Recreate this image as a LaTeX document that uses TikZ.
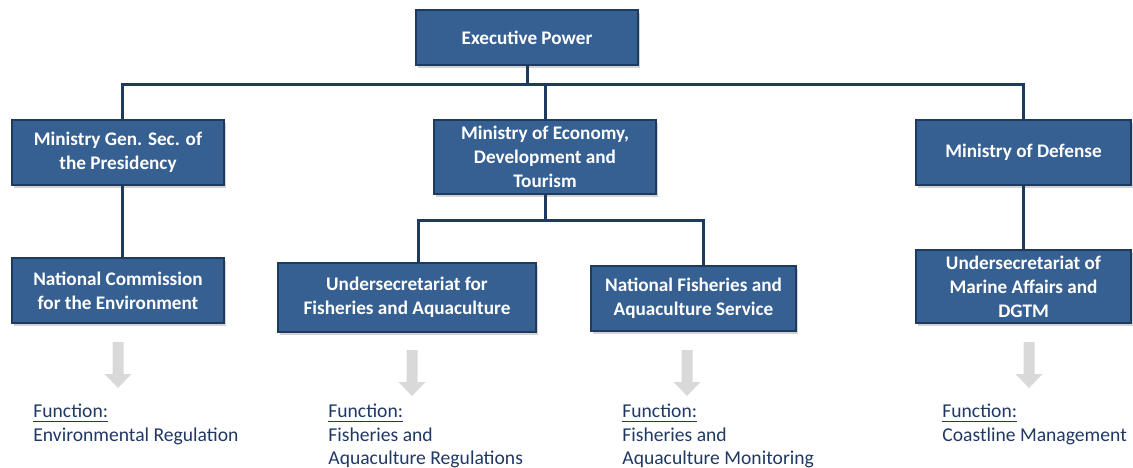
\documentclass[tikz,border=0pt]{standalone}
\usepackage{fontspec}
\setmainfont{Carlito}
\usetikzlibrary{shadows}
\definecolor{boxfill}{HTML}{376092}
\definecolor{boxline}{HTML}{1F3A5F}
\definecolor{fntext}{HTML}{1F3864}
\definecolor{arrowgray}{HTML}{D9D9D9}
\tikzset{
  orgbox/.style={draw=boxline,line width=1.4pt,fill=boxfill,text=white,
    font=\bfseries\fontsize{9.6}{12}\selectfont,align=center,inner sep=2pt,
    drop shadow={shadow xshift=1.2pt,shadow yshift=-1.4pt,opacity=0.35}},
  link/.style={draw=boxline,line width=1.5pt},
  fnlabel/.style={anchor=north west,align=left,text=fntext,inner sep=0pt,
    font=\fontsize{9.8}{11.75}\selectfont},
}
% grey block arrow pointing down, centred on a coordinate
\newcommand{\fnarrow}[1]{\fill[arrowgray] (#1) +(-5.5,-23) -- +(5.5,-23) -- +(5.5,9)
  -- +(13.5,9) -- +(0,23) -- +(-13.5,9) -- +(-5.5,9) -- cycle;}
\begin{document}
\begin{tikzpicture}[x=0.5pt,y=-0.5pt]
\useasboundingbox (0,0) rectangle (1133,467);
%%
\node (exec) at (527,37.5) [orgbox,minimum width=111pt,minimum height=27.5pt] {Executive Power};
\node (min_gensec) at (118,152.5) [orgbox,minimum width=106pt,minimum height=32.5pt] {Ministry Gen. Sec. of\\the Presidency};
\node (min_econ) at (545,157) [orgbox,minimum width=111pt,minimum height=37pt] {Ministry of Economy,\\Development and\\Tourism};
\node (min_def) at (1023.5,152.5) [orgbox,minimum width=107.5pt,minimum height=32.5pt] {Ministry of Defense};
\node (com_env) at (118,290.5) [orgbox,minimum width=106pt,minimum height=32.5pt] {National Commission\\for the Environment};
\node (sub_fish) at (407,297.5) [orgbox,minimum width=129pt,minimum height=34.5pt] {Undersecretariat for\\Fisheries and Aquaculture};
\node (serv_fish) at (693.5,298.5) [orgbox,minimum width=102.5pt,minimum height=32.5pt] {National Fisheries and\\Aquaculture Service};
\node (sub_mar) at (1023.5,286.5) [orgbox,minimum width=107.5pt,minimum height=36.5pt] {Undersecretariat of\\Marine Affairs and\\DGTM};
%
\coordinate (bus) at (527,84);
\coordinate (bus_econ) at (545,220);
\draw [link] (exec) -- (bus);
\draw [link] ([xshift=2pt]min_gensec.north) |- (bus) -| (min_def.north);
\draw [link] (min_econ.north) -- (min_econ.north |- bus);
\draw [link] ([xshift=2pt]min_gensec.south) -- ([xshift=2pt]com_env.north);
\draw [link] (min_def) -- (sub_mar);
\draw [link] (min_econ) -- (bus_econ);
\draw [link] ([xshift=5.5pt]sub_fish.north) |- (bus_econ) -| ([xshift=5pt]serv_fish.north);
%
\coordinate (arr_env) at (118,365);
\coordinate (arr_reg) at (412,373);
\coordinate (arr_mon) at (687,373);
\coordinate (arr_coast) at (1029,365);
\fnarrow{arr_env}
\fnarrow{arr_reg}
\fnarrow{arr_mon}
\fnarrow{arr_coast}
\node (fn_env) at (33,404) [fnlabel] {\underline{Function:}\\Environmental Regulation};
\node (fn_reg) at (328,404) [fnlabel] {\underline{Function:}\\Fisheries and\\Aquaculture Regulations};
\node (fn_mon) at (622,404) [fnlabel] {\underline{Function:}\\Fisheries and\\Aquaculture Monitoring};
\node (fn_coast) at (942,404) [fnlabel] {\underline{Function:}\\Coastline Management};
%
\end{tikzpicture}
\end{document}
